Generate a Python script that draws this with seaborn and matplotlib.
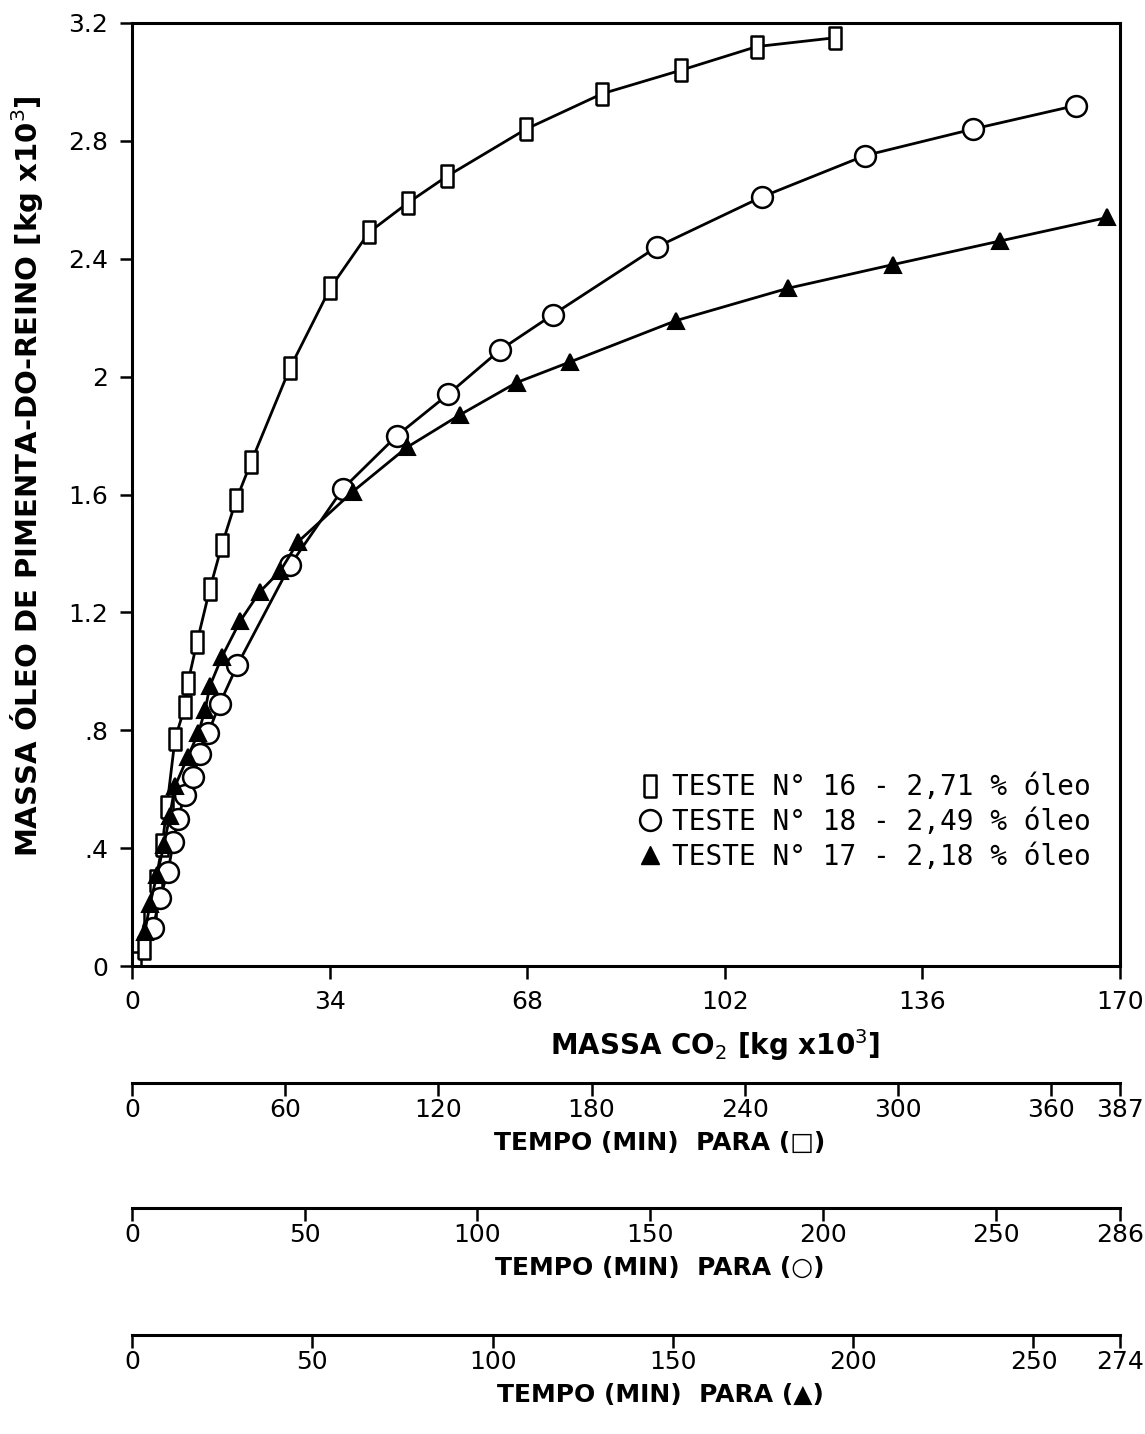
import numpy as np
import pandas as pd
import matplotlib
matplotlib.use("Agg")
import matplotlib.pyplot as plt
from matplotlib.lines import Line2D
import seaborn as sns

# ---- data ----
co2_sq = [0.5, 2.1, 3.1, 4.1, 5.2, 6.0, 7.4, 9.1, 9.6, 11.2, 13.4, 15.5, 17.9, 20.5,
          27.2, 34.1, 40.8, 47.5, 54.2, 67.8, 80.9, 94.5, 107.5, 121.0]
oil_sq = [0.01, 0.06, 0.16, 0.29, 0.41, 0.54, 0.77, 0.88, 0.96, 1.10, 1.28, 1.43, 1.58, 1.71,
          2.03, 2.30, 2.49, 2.59, 2.68, 2.84, 2.96, 3.04, 3.12, 3.15]

co2_ci = [3.6, 4.8, 6.2, 7.1, 7.9, 9.1, 10.5, 11.7, 13.1, 15.1, 18.1, 27.2, 36.3, 45.6,
          54.4, 63.3, 72.4, 90.3, 108.4, 126.1, 144.7, 162.4]
oil_ci = [0.13, 0.23, 0.32, 0.42, 0.50, 0.58, 0.64, 0.72, 0.79, 0.89, 1.02, 1.36, 1.62, 1.80,
          1.94, 2.09, 2.21, 2.44, 2.61, 2.75, 2.84, 2.92]

co2_tr = [2.2, 3.1, 4.3, 5.5, 6.5, 7.4, 9.6, 11.4, 12.6, 13.4, 15.5, 18.6, 22.0, 25.5, 28.6,
          38.0, 47.3, 56.4, 66.2, 75.4, 93.6, 112.9, 130.9, 149.3, 167.8]
oil_tr = [0.115, 0.21, 0.31, 0.41, 0.51, 0.61, 0.71, 0.79, 0.87, 0.95, 1.05, 1.17, 1.27, 1.34, 1.44,
          1.61, 1.76, 1.87, 1.98, 2.05, 2.19, 2.30, 2.38, 2.46, 2.54]

legend_labels = ["TESTE N° 16 - 2,71 % óleo",
                 "TESTE N° 18 - 2,49 % óleo",
                 "TESTE N° 17 - 2,18 % óleo"]

x_ticks = [0, 34, 68, 102, 136, 170]
y_ticks = [0, 0.4, 0.8, 1.2, 1.6, 2.0, 2.4, 2.8, 3.2]
y_ticklabels = ["0", ".4", ".8", "1.2", "1.6", "2", "2.4", "2.8", "3.2"]

t1_ticks = [0, 60, 120, 180, 240, 300, 360, 387]
t2_ticks = [0, 50, 100, 150, 200, 250, 286]
t3_ticks = [0, 50, 100, 150, 200, 250, 274]
t_titles = ["TEMPO (MIN)  PARA (□)", "TEMPO (MIN)  PARA (○)", "TEMPO (MIN)  PARA (▲)"]

# ---- style ----
sns.set_style("ticks")
plt.rcParams["font.family"] = ["DejaVu Sans"]
for k in ("text.color", "axes.edgecolor", "axes.labelcolor", "xtick.color", "ytick.color"):
    plt.rcParams[k] = "black"

fig = plt.figure(figsize=(11.45, 14.34), dpi=100)
L, W = 132 / 1145, 988 / 1145
ax = fig.add_axes([L, 1 - 966 / 1434, W, 943 / 1434])

rect = [(-0.5, -1), (0.5, -1), (0.5, 1), (-0.5, 1), (-0.5, -1)]

df_sq = pd.DataFrame({"x": co2_sq, "y": oil_sq})
df_ci = pd.DataFrame({"x": co2_ci, "y": oil_ci})
df_tr = pd.DataFrame({"x": co2_tr, "y": oil_tr})

sns.lineplot(data=df_sq, x="x", y="y", ax=ax, sort=False, estimator=None, color="black",
             lw=2, marker=rect, markersize=16, markerfacecolor="white",
             markeredgecolor="black", markeredgewidth=1.8)
sns.lineplot(data=df_ci, x="x", y="y", ax=ax, sort=False, estimator=None, color="black",
             lw=2, marker="o", markersize=15, markerfacecolor="white",
             markeredgecolor="black", markeredgewidth=1.8)
sns.lineplot(data=df_tr, x="x", y="y", ax=ax, sort=False, estimator=None, color="black",
             lw=2, marker="^", markersize=11, markerfacecolor="black",
             markeredgecolor="black", markeredgewidth=1.5)

ax.set_xlim(0, 170)
ax.set_ylim(0, 3.2)
ax.set_xticks(x_ticks)
ax.set_xticklabels([str(v) for v in x_ticks])
ax.set_yticks(y_ticks)
ax.set_yticklabels(y_ticklabels)
for s in ax.spines.values():
    s.set_linewidth(2.2)
ax.tick_params(axis="both", direction="out", length=9, width=1.8, labelsize=18, pad=8)
ax.set_xlabel("")
ax.set_ylabel("MASSA ÓLEO DE PIMENTA-DO-REINO [kg x10$^3$]", fontsize=21,
              fontweight="bold", labelpad=10)
ax.yaxis.set_label_coords(-0.088, 0.52)
ax.text(0.59, -0.084, "MASSA CO$_2$ [kg x10$^3$]", transform=ax.transAxes,
        ha="center", va="center", fontsize=20, fontweight="bold")

handles = [
    Line2D([], [], ls="none", marker=rect, markersize=16, mfc="white", mec="black", mew=1.8),
    Line2D([], [], ls="none", marker="o", markersize=15, mfc="white", mec="black", mew=1.8),
    Line2D([], [], ls="none", marker="^", markersize=13, mfc="black", mec="black"),
]
ax.legend(handles, legend_labels, loc="lower right", bbox_to_anchor=(0.99, 0.08),
          frameon=False, prop={"family": "DejaVu Sans Mono", "size": 20},
          handlelength=0.8, handletextpad=0.4, labelspacing=0.25, borderpad=0.2)

# ---- secondary time axes ----
sec = [(1083, 1143, 387, t1_ticks, t_titles[0]),
       (1208, 1268, 286, t2_ticks, t_titles[1]),
       (1335, 1395, 274, t3_ticks, t_titles[2])]
for ypix, tpix, tmax, ticks, title in sec:
    a2 = fig.add_axes([L, 1 - ypix / 1434, W, 0.0001])
    a2.set_facecolor("none")
    for k in ("left", "right", "top"):
        a2.spines[k].set_visible(False)
    a2.spines["bottom"].set_linewidth(2.2)
    a2.set_yticks([])
    a2.set_xlim(0, tmax)
    a2.set_xticks(ticks)
    a2.set_xticklabels([str(v) for v in ticks])
    a2.tick_params(axis="x", direction="out", length=9, width=1.8, labelsize=18, pad=2)
    fig.text(660 / 1145, 1 - tpix / 1434, title, ha="center", va="center",
             fontsize=18, fontweight="bold")

fig.savefig("out.png", dpi=100, facecolor="white")
